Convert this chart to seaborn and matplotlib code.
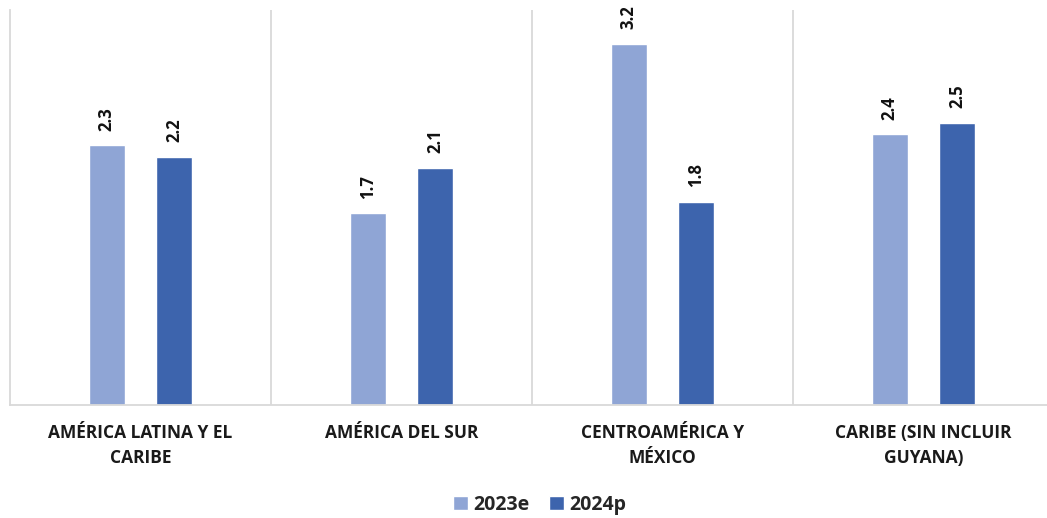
import pandas as pd
import matplotlib.pyplot as plt
import seaborn as sns

categories = ["AMÉRICA LATINA Y EL\nCARIBE", "AMÉRICA DEL SUR",
              "CENTROAMÉRICA Y\nMÉXICO", "CARIBE (SIN INCLUIR\nGUYANA)"]
series = ["2023e", "2024p"]
values_2023e = [2.3, 1.7, 3.2, 2.4]
values_2024p = [2.2, 2.1, 1.8, 2.5]
colors = ["#8FA5D5", "#3D64AD"]

df = pd.DataFrame({
    "region": categories * 2,
    "serie": [series[0]] * 4 + [series[1]] * 4,
    "valor": values_2023e + values_2024p,
})

sns.set_style("white")
plt.rcParams["font.family"] = ["Open Sans", "DejaVu Sans"]

fig = plt.figure(figsize=(10.47, 5.18), dpi=100)
ax = fig.add_axes([10 / 1047, 113 / 518, 1044 / 1047, 395 / 518])

sns.barplot(data=df, x="region", y="valor", hue="serie", palette=colors,
            width=0.517, gap=0.466, ax=ax, saturation=1, legend=True)

for cont in ax.containers:
    ax.bar_label(cont, fmt="%.1f", rotation=90, padding=10.5,
                 fontsize=12, fontweight="bold", color="#111111")

ax.set_xlim(-0.5, 3.5)
ax.set_ylim(0, 3.5)
ax.set_yticks([])
ax.set_xlabel("")
ax.set_ylabel("")
for x in [0.5, 1.5, 2.5]:
    ax.axvline(x, color="#d9d9d9", lw=1.3, zorder=0)
for s in ["top", "right"]:
    ax.spines[s].set_visible(False)
ax.spines["left"].set_color("#d9d9d9")
ax.spines["bottom"].set_color("#d9d9d9")
ax.spines["left"].set_linewidth(1.3)
ax.spines["bottom"].set_linewidth(1.3)
ax.tick_params(axis="x", length=0, pad=14)
for lbl in ax.get_xticklabels():
    lbl.set_fontsize(12.5)
    lbl.set_fontweight("bold")
    lbl.set_color("#1a1a1a")
    lbl.set_linespacing(1.45)

ax.legend(loc="center", bbox_to_anchor=(530 / 1044, -100 / 395), ncol=2,
          frameon=False, handlelength=0.75, handleheight=0.75, columnspacing=1.0,
          handletextpad=0.3, prop={"weight": "bold", "size": 14})

fig.savefig("out.png", dpi=100)
